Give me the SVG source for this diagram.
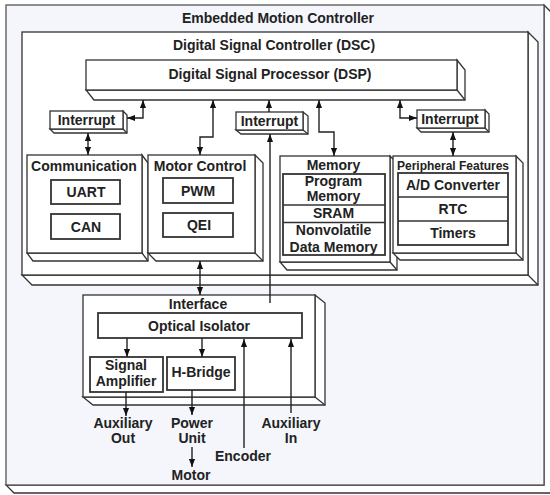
<svg xmlns="http://www.w3.org/2000/svg" width="550" height="495" viewBox="0 0 550 495">
<style>
  .t{font-family:"Liberation Sans",Arial,sans-serif;font-weight:bold;font-size:14px;fill:#222;text-anchor:middle}
  .s{font-size:12px}
  .ext{fill:#fff;stroke:#333;stroke-width:1.3;stroke-linejoin:miter}
  .face{fill:#fff;stroke:#333;stroke-width:1.3}
  .edge{stroke:#333;stroke-width:1.3;fill:none}
  .inner{fill:#fff;stroke:#333;stroke-width:1.8}
  .c{fill:none;stroke:#222;stroke-width:1.4}
</style>
<defs>
  <marker id="ah" viewBox="0 0 10 10" refX="10" refY="5" markerWidth="8" markerHeight="8" markerUnits="userSpaceOnUse" orient="auto-start-reverse">
    <path d="M0,1.2 L10,5 L0,8.8 z" fill="#111"/>
  </marker>
</defs>
<rect x="0" y="0" width="550" height="495" fill="#fff"/>

<g id="embedded-motion-controller">
  <polygon class="ext" points="544,5 552,13 552,493 14,493 6,485 544,485"/>
  <rect x="6" y="5" width="538" height="480" fill="#f4f6fb" stroke="#555" stroke-width="1.3"/>
  <text class="t" x="278" y="23">Embedded Motion Controller</text>
</g>

<g id="dsc">
  <polygon class="ext" points="528,32 538,42 538,285 32,285 22,275 528,275"/>
  <line class="edge" x1="528" y1="275" x2="538" y2="285"/>
  <rect class="face" x="22" y="32" width="506" height="243"/>
  <text class="t" x="274" y="50">Digital Signal Controller (DSC)</text>
</g>

<g id="dsp">
  <polygon class="ext" points="457,60 465,70 465,100 94,100 86,90 457,90"/>
  <line class="edge" x1="457" y1="90" x2="465" y2="100"/>
  <rect class="face" x="86" y="60" width="371" height="30"/>
  <text class="t" x="270" y="79">Digital Signal Processor (DSP)</text>
</g>

<g id="interrupt-left">
  <polygon class="ext" points="123,111 127,115 127,133 54,133 50,129 123,129"/>
  <line class="edge" x1="123" y1="129" x2="127" y2="133"/>
  <rect class="face" x="50" y="111" width="73" height="18"/>
  <text class="t" x="86.5" y="124.5">Interrupt</text>
</g>

<g id="interrupt-center">
  <polygon class="ext" points="303,112 308,116 308,134 241,134 236,130 303,130"/>
  <line class="edge" x1="303" y1="130" x2="308" y2="134"/>
  <rect class="face" x="236" y="112" width="67" height="18"/>
  <text class="t" x="269.5" y="126">Interrupt</text>
</g>

<g id="interrupt-right">
  <polygon class="ext" points="485,110 489,114 489,132 421,132 417,128 485,128"/>
  <line class="edge" x1="485" y1="128" x2="489" y2="132"/>
  <rect class="face" x="417" y="110" width="68" height="18"/>
  <text class="t" x="450" y="124">Interrupt</text>
</g>

<g id="communication">
  <polygon class="ext" points="142,155 148,163 148,261 33,261 27,253 142,253"/>
  <line class="edge" x1="142" y1="253" x2="148" y2="261"/>
  <rect class="face" x="27" y="155" width="115" height="98"/>
  <text class="t" x="84" y="171">Communication</text>
  <rect class="inner" x="51" y="180" width="69" height="24"/>
  <text class="t" x="86" y="197">UART</text>
  <rect class="inner" x="51" y="214" width="69" height="25"/>
  <text class="t" x="86" y="231.5">CAN</text>
</g>

<g id="motor-control">
  <polygon class="ext" points="255,155 263,163 263,261 156,261 148,253 255,253"/>
  <line class="edge" x1="255" y1="253" x2="263" y2="261"/>
  <rect class="face" x="148" y="155" width="107" height="98"/>
  <text class="t" x="200" y="171">Motor Control</text>
  <rect class="inner" x="163" y="178" width="70" height="25"/>
  <text class="t" x="198" y="195.5">PWM</text>
  <rect class="inner" x="163" y="213" width="70" height="24"/>
  <text class="t" x="199" y="230">QEI</text>
</g>

<g id="memory">
  <polygon class="ext" points="390,156 397,163 397,270 287,270 280,262 390,262"/>
  <line class="edge" x1="390" y1="262" x2="397" y2="270"/>
  <rect class="face" x="280" y="156" width="110" height="106"/>
  <text class="t" x="333.5" y="170">Memory</text>
  <rect class="inner" x="283" y="174" width="102" height="81"/>
  <line class="edge" x1="283" y1="205" x2="385" y2="205"/>
  <line class="edge" x1="283" y1="222.5" x2="385" y2="222.5"/>
  <text class="t" x="333.5" y="186">Program</text>
  <text class="t" x="333.5" y="201">Memory</text>
  <text class="t" x="333.5" y="217.5">SRAM</text>
  <text class="t" x="333.5" y="235">Nonvolatile</text>
  <text class="t" x="333.5" y="251.5">Data Memory</text>
</g>

<g id="peripheral-features">
  <polygon class="ext" points="516,156 523,163 523,260 400,260 393,253 516,253"/>
  <line class="edge" x1="516" y1="253" x2="523" y2="260"/>
  <rect class="face" x="393" y="156" width="123" height="97"/>
  <text class="t s" x="453" y="169.5">Peripheral Features</text>
  <rect class="inner" x="398" y="173" width="110" height="72"/>
  <line class="edge" x1="398" y1="197" x2="508" y2="197"/>
  <line class="edge" x1="398" y1="221" x2="508" y2="221"/>
  <text class="t" x="453" y="190">A/D Converter</text>
  <text class="t" x="453" y="214">RTC</text>
  <text class="t" x="453" y="237.5">Timers</text>
</g>

<g id="interface">
  <polygon class="ext" points="315,295 325,303 325,405 93,405 83,397 315,397"/>
  <line class="edge" x1="315" y1="397" x2="325" y2="405"/>
  <rect class="face" x="83" y="295" width="232" height="102"/>
  <text class="t" x="198" y="309">Interface</text>
</g>

<g id="optical-isolator">
  <rect class="inner" x="98" y="313" width="204" height="25"/>
  <text class="t" x="199" y="330.5">Optical Isolator</text>
</g>

<g id="signal-amplifier">
  <rect class="inner" x="90" y="357" width="73" height="35"/>
  <text class="t" x="126" y="370">Signal</text>
  <text class="t" x="126" y="386">Amplifier</text>
</g>

<g id="h-bridge">
  <rect class="inner" x="167" y="357" width="68" height="33"/>
  <text class="t" x="201" y="377">H-Bridge</text>
</g>

<g id="labels">
  <text class="t" x="123" y="428">Auxiliary</text>
  <text class="t" x="123" y="443">Out</text>
  <text class="t" x="192" y="428">Power</text>
  <text class="t" x="192" y="443">Unit</text>
  <text class="t" x="191" y="480">Motor</text>
  <text class="t" x="243" y="461">Encoder</text>
  <text class="t" x="291" y="428">Auxiliary</text>
  <text class="t" x="291" y="443">In</text>
</g>

<g id="connectors">
  <path class="c" d="M143,100 V118 H127" marker-start="url(#ah)" marker-end="url(#ah)"/>
  <path class="c" d="M88,133 V155" marker-start="url(#ah)" marker-end="url(#ah)"/>
  <path class="c" d="M213,100 V137 H200 V155" marker-start="url(#ah)" marker-end="url(#ah)"/>
  <path class="c" d="M269,112 V100" marker-end="url(#ah)"/>
  <path class="c" d="M270,303 V134" marker-end="url(#ah)"/>
  <path class="c" d="M319,100 V132 H334 V156" marker-start="url(#ah)" marker-end="url(#ah)"/>
  <path class="c" d="M400,100 V118 H417" marker-start="url(#ah)" marker-end="url(#ah)"/>
  <path class="c" d="M453,132 V156" marker-start="url(#ah)" marker-end="url(#ah)"/>
  <path class="c" d="M200,261 V295" marker-start="url(#ah)" marker-end="url(#ah)"/>
  <path class="c" d="M127,338 V357" marker-end="url(#ah)"/>
  <path class="c" d="M202,338 V357" marker-end="url(#ah)"/>
  <path class="c" d="M126,392 V416" marker-end="url(#ah)"/>
  <path class="c" d="M192,390 V415" marker-end="url(#ah)"/>
  <path class="c" d="M192,447 V467" marker-end="url(#ah)"/>
  <path class="c" d="M244,448 V339" marker-end="url(#ah)"/>
  <path class="c" d="M291,413 V339" marker-end="url(#ah)"/>
</g>
</svg>
